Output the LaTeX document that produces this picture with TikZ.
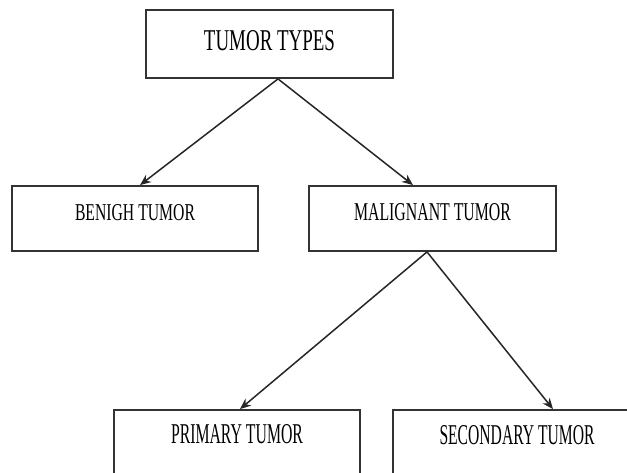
\documentclass[tikz,border=0pt]{standalone}
\usepackage{fontspec}
\setmainfont{Liberation Serif}
\usetikzlibrary{arrows.meta}
\newcommand{\captxt}[3]{\resizebox{#1pt}{#2pt}{\fontsize{20}{20}\selectfont #3}}
\begin{document}
\begin{tikzpicture}[x=1pt,y=-1pt,
  box/.style={draw=black!80, line width=1.8pt, inner sep=0pt, fill=white},
  arr/.style={draw=black!85, line width=1.5pt, -{Stealth[length=11pt,width=9pt]}}]
\useasboundingbox (0,0) rectangle (627,472);
\fill[white] (0,0) rectangle (627,472);
\clip (0,0) rectangle (627,472);
\node[box, minimum width=247, minimum height=68, text height=20pt, text depth=8pt] (top) at (269.5,44) {\captxt{131}{20}{TUMOR TYPES}};
\node[box, minimum width=246, minimum height=65, text height=16pt, text depth=12pt] (benigh) at (135,218.5) {\captxt{120}{16}{BENIGH TUMOR}};
\node[box, minimum width=247, minimum height=65, text height=17pt, text depth=13pt] (malig) at (432.5,218.5) {\captxt{157}{17}{MALIGNANT TUMOR}};
\node[box, minimum width=246, minimum height=65, text height=19pt, text depth=18pt] (primary) at (237,442.5) {\captxt{132}{19}{PRIMARY TUMOR}};
\node[box, minimum width=248, minimum height=65, text height=19pt, text depth=16pt] (secondary) at (517,442.5) {\captxt{155}{19}{SECONDARY TUMOR}};
\draw[arr] ([xshift=8.5pt]top.south) -- ([xshift=5pt]benigh.north);
\draw[arr] ([xshift=8.5pt]top.south) -- ([xshift=-19.5pt]malig.north);
\draw[arr] ([xshift=-5.5pt]malig.south) -- ([xshift=3pt]primary.north);
\draw[arr] ([xshift=-5.5pt]malig.south) -- ([xshift=36pt]secondary.north);
\end{tikzpicture}
\end{document}
